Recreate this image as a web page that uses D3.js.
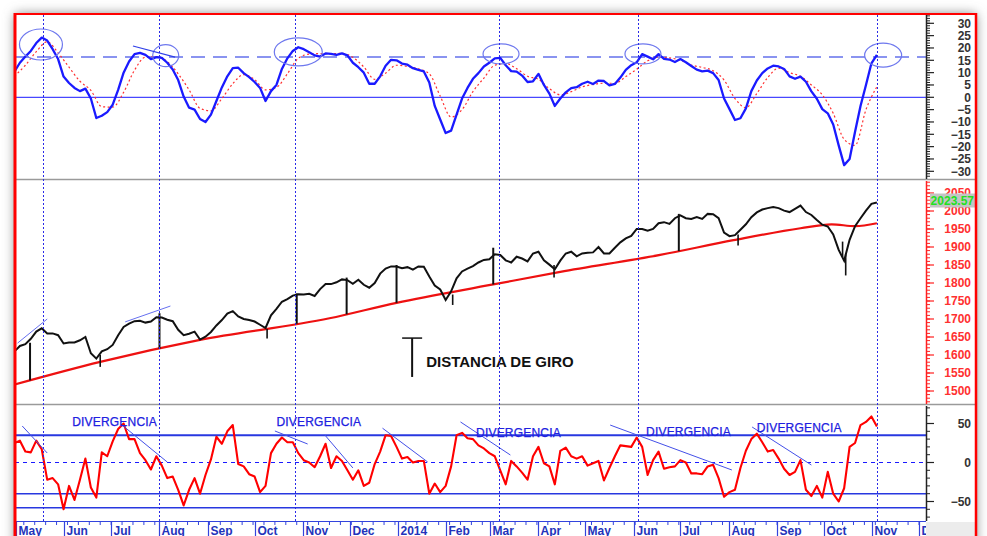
<!DOCTYPE html>
<html lang="es">
<head>
<meta charset="UTF-8">
<script src="https://cdn.jsdelivr.net/npm/d3@7"></script>
<style>
  html, body { margin: 0; padding: 0; background: #fff; }
  svg { display: block; font-family: "Liberation Sans", Arial, sans-serif; }
</style>
</head>
<body>
<script>
// ---- data (S&P 500, May 2013 - Nov 2014) ----
const seriesStart = "2013-04-30";   // first sample
const fineStep = 3.5;               // days between samples (price, oscillators)
const weekStep = 7;                 // days between samples (signal line)

// top oscillator (blue) and its signal (red dotted)
const oscBlue = [10.4,14,16.5,18.8,22,24.2,23,19.5,15.5,8.4,
  5.8,3.8,2.5,3.5,-0.5,-8.4,-7.5,-6,-3,3,
  10,14.5,17.5,18,17.2,15.5,16.3,16,14,11.3,
  7,0.3,-4.2,-5,-8.8,-10,-7,-1.5,4,8.5,
  11.8,12,9.8,8.2,6.2,3.8,-1.5,2.5,5,11.5,
  15.8,18.8,20.3,19.5,18.3,17,16.5,17.8,17.6,17.2,
  17.8,17,14,12.2,10,5.5,5.5,8.5,12.8,15.2,
  15,13.7,13.2,11.8,11.1,10.5,6,-3.5,-9,-14.5,
  -13.5,-7,-0.5,3.8,7.5,9.8,12.5,14,15.8,16,
  13,10.6,10.4,8.8,6.2,6.5,9.5,5,1.5,-3.5,
  -0.5,2,3.7,4.1,5.5,6.3,5.4,6.8,6.6,4.8,
  5.4,8,11.1,13,14.2,17.5,16.5,15.4,17.5,15.6,
  15.3,14.3,15.5,14.2,12.7,11.2,10.5,10.8,9.8,7,
  -0.5,-4.8,-9.2,-8.5,-4.5,2.5,6.8,9.8,11.7,12.8,
  12.5,11.5,8.5,7.5,8.4,6.3,2.4,-0.6,-4.8,-6.5,
  -11,-19.5,-27.5,-25,-14,-3.5,5,13.8,17.2];
const oscSignal = [8.6,13,18.5,22.5,18,12.2,6.5,2.8,-3.8,-4,
  2,11,16.3,16.5,14.5,9.5,3,-4.5,-5.5,-0.5,
  5.5,9.2,7.2,3,4,9.5,15.8,17.5,17.7,17.7,
  17.8,16.2,12.3,7.3,9.8,13,12.5,11.5,9.5,0.5,
  -8,-5,2.3,7.8,13,13.7,11.6,8.5,7.3,3.5,
  1,2.3,4.2,5.2,5.7,5.7,8.4,11.4,14.8,16.3,
  16,15,13.1,12.1,10.8,7,-0.5,-4.2,1.5,8,
  11.8,10,8.5,5,1,-6.5,-17,-19.5,-5,4.3];

// price
const closes = [1610,1625,1630,1645,1665,1674,1660,1660,1655,1632,
  1635,1635,1641,1650,1605,1590,1610,1616,1628,1655,
  1678,1687,1694,1695,1690,1693,1705,1704,1698,1694,
  1670,1655,1659,1665,1643,1651,1664,1682,1697,1715,
  1722,1707,1700,1697,1693,1684,1675,1710,1728,1748,
  1755,1765,1769,1768,1770,1764,1783,1797,1797,1802,
  1810,1808,1798,1809,1795,1787,1800,1826,1840,1846,
  1846,1841,1844,1837,1846,1845,1818,1793,1782,1753,
  1777,1813,1832,1840,1847,1857,1864,1866,1880,1878,
  1863,1857,1873,1868,1860,1882,1887,1863,1851,1838,
  1862,1882,1887,1874,1882,1884,1885,1900,1882,1882,
  1898,1913,1924,1931,1950,1950,1945,1950,1966,1969,
  1964,1980,1988,1980,1978,1983,1978,1992,1991,1980,
  1940,1930,1933,1948,1963,1983,1996,2004,2008,2011,
  2008,2001,1997,2006,2015,1997,1989,1975,1962,1957,
  1935,1892,1862,1920,1958,1980,2001,2020,2023.57];
const lastPrice = "2023.57";

// intraday ranges of the sharpest sessions
const rangeDates = ["2013-06-24","2013-10-09","2014-02-05","2014-04-11","2014-08-07","2014-10-13","2014-10-15"];
const rangeLows = [1567,1646,1739,1815,1904,1872,1821];
const rangeHighs = [1600,1672,1768,1850,1935,1915,1880];

// moving average (red)
const maDates = ["2013-04-30","2013-06-24","2013-08-27","2013-11-18","2013-12-31","2014-03-03",
  "2014-04-15","2014-06-18","2014-08-04","2014-09-16","2014-10-06","2014-10-21","2014-11-04"];
const maValues = [1518,1581,1642,1702,1745,1796,1831,1878,1919,1952,1963,1958,1966];

// "distancia de giro" bars: from the high down to the average
const giroDates = ["2013-05-10","2013-08-01","2013-10-28","2013-11-29","2013-12-31","2014-03-03","2014-06-30"];
const giroHighs = [1634,1716,1771,1815,1850,1898,1992];

// bottom oscillator (red)
const momentum = [25,28,14,13,28,17,-22,-20,-28,-60,
  -30,-48,-22,5,-32,-45,13,8,27,43,
  50,30,30,12,3,-9,8,-4,-20,-18,
  -35,-55,-35,-20,-40,-16,4,33,24,40,
  48,-2,-5,-15,-18,-38,-30,12,24,32,
  26,26,12,3,0,-6,8,24,-7,8,
  2,-10,-22,-10,-30,-26,-2,14,35,34,
  20,5,7,0,2,2,-40,-27,-38,-30,
  -5,35,38,31,30,22,18,12,8,-10,
  -28,2,-5,-13,-22,8,20,-1,-5,-28,
  15,19,8,5,8,-4,-1,2,-23,-7,
  8,22,21,20,32,20,-16,3,
  14,-8,-6,-5,3,0,-14,-14,-15,-5,
  -3,-20,-44,-38,-35,-7,15,30,37,26,
  14,16,5,-8,-16,-12,3,-35,-43,-30,
  -45,-12,-40,-50,-33,20,25,48,52,59,
  46];
const momLevels = [35, -40, -58];

// annotations
const markerDates = ["2013-05-18","2013-08-01","2013-10-27","2014-03-07","2014-06-04","2014-11-04"];
const peakDates = ["2013-05-17","2013-08-05","2013-10-29","2014-03-08","2014-06-07","2014-11-08"];
const peakValues = [21.4,16.9,18.4,17.6,17.6,17.1];
const peakRx = [21.5,13,24,18,18,18.5];
const peakRy = [15.5,11,14,10,10,12];
const oscLevel = 16.3;

const divLabelDates = ["2013-06-06","2013-10-15","2014-02-20","2014-06-09","2014-08-19"];
const divLabelValues = [46.8,46.8,32.7,34,39];
const divLines = [
  ["2013-05-05",46.8,"2013-05-21",12.2],["2013-07-08",48,"2013-08-06",0.6],
  ["2013-10-14",40.4,"2013-11-04",23.7],["2013-11-15",35.3,"2013-12-03",-7],
  ["2013-12-22",44,"2014-01-20",0.6],["2014-02-10",52,"2014-03-14",9.6],
  ["2014-05-17",48,"2014-08-03",-9.6],["2014-08-16",45.5,"2014-09-23",-3.2]];
const priceLines = [["2013-05-02",1633,"2013-05-21",1700],["2013-07-10",1692,"2013-08-08",1736]];
const oscLines = [["2013-07-15",20.8,"2013-08-11",16.3]];

const monthLabels = ["May","Jun","Jul","Aug","Sep","Oct","Nov","Dec","2014","Feb",
  "Mar","Apr","May","Jun","Jul","Aug","Sep","Oct","Nov","Dec"];

// ---- layout ----
const W = 987, H = 536;
const L = 15, R = 926;
const pTop = {y0: 15, y1: 179}, pMid = {y0: 181, y1: 404}, pBot = {y0: 406, y1: 521};
const BLUE = "#1a1aff", AXBLUE = "#3344dd";

const parse = d3.utcParse("%Y-%m-%d");
const DAY = 864e5;
const t0 = parse(seriesStart).getTime();
const fineDates = closes.map((_, i) => new Date(t0 + i * fineStep * DAY));
const weekDates = oscSignal.map((_, i) => new Date(t0 + i * weekStep * DAY));

const x = d3.scaleUtc().domain([parse("2013-05-01"), parse("2014-12-01")]).range([16, 919]);
const yTop = d3.scaleLinear().domain([-30, 30]).range([171.3, 23.3]);
const yPx = d3.scaleLinear().domain([1500, 2000]).range([391, 211]);
const yBot = d3.scaleLinear().domain([-50, 50]).range([501.5, 423.5]);

const svg = d3.select("body").append("svg").attr("width", W).attr("height", H);
const defs = svg.append("defs");
defs.append("filter").attr("id", "shadow").attr("x", "-10%").attr("y", "-10%")
  .attr("width", "120%").attr("height", "120%")
  .append("feGaussianBlur").attr("stdDeviation", 6);
defs.append("clipPath").attr("id", "plot")
  .append("rect").attr("x", L + 1).attr("y", pTop.y0).attr("width", R - L - 1).attr("height", pBot.y1 - pTop.y0);

// window + shadow
svg.append("rect").attr("x", L).attr("y", 14).attr("width", 961).attr("height", 560)
  .attr("fill", "#808080").attr("filter", "url(#shadow)");
svg.append("rect").attr("x", L).attr("y", 14).attr("width", 961).attr("height", 560).attr("fill", "#fff");
svg.append("rect").attr("x", R).attr("y", pBot.y1 + 1).attr("width", 50).attr("height", 20).attr("fill", "#ececec");

// panel separators
[pTop.y1 + 0.5, pMid.y1 + 0.5].forEach(y => {
  svg.append("line").attr("x1", L).attr("x2", 976).attr("y1", y).attr("y2", y)
    .attr("stroke", "#9a9a9a").attr("stroke-width", 1.5);
});

const plot = svg.append("g").attr("clip-path", "url(#plot)");

// ---- top panel ----
plot.append("line").attr("x1", L).attr("x2", R).attr("y1", yTop(0)).attr("y2", yTop(0))
  .attr("stroke", BLUE).attr("stroke-width", 1);
plot.append("line").attr("x1", L).attr("x2", R).attr("y1", yTop(oscLevel)).attr("y2", yTop(oscLevel))
  .attr("stroke", "#8a94f0").attr("stroke-width", 2).attr("stroke-dasharray", "14,8");

plot.append("path").datum(oscSignal)
  .attr("d", d3.line().x((d, i) => x(weekDates[i])).y(d => yTop(d)).curve(d3.curveMonotoneX))
  .attr("fill", "none").attr("stroke", "#ff3030").attr("stroke-width", 1.2).attr("stroke-dasharray", "2,2.5");
plot.append("path").datum(oscBlue)
  .attr("d", d3.line().x((d, i) => x(fineDates[i])).y(d => yTop(d)))
  .attr("fill", "none").attr("stroke", BLUE).attr("stroke-width", 2.3).attr("stroke-linejoin", "round");

peakDates.forEach((d, i) => {
  plot.append("ellipse").attr("cx", x(parse(d))).attr("cy", yTop(peakValues[i]))
    .attr("rx", peakRx[i]).attr("ry", peakRy[i])
    .attr("fill", "none").attr("stroke", "#6e78ee").attr("stroke-width", 1.2);
});
oscLines.forEach(l => {
  plot.append("line").attr("x1", x(parse(l[0]))).attr("y1", yTop(l[1]))
    .attr("x2", x(parse(l[2]))).attr("y2", yTop(l[3]))
    .attr("stroke", "#3040e8").attr("stroke-width", 1.2);
});

// ---- price panel ----
const maPts = maDates.map((d, i) => [parse(d), maValues[i]]);
const maAt = date => {
  const t = date.getTime();
  const j = d3.bisector(p => p[0]).right(maPts, date) - 1;
  const a = maPts[Math.max(0, j)], b = maPts[Math.min(maPts.length - 1, j + 1)];
  if (a === b) return a[1];
  return a[1] + (b[1] - a[1]) * (t - a[0]) / (b[0] - a[0]);
};

plot.append("path").datum(maPts)
  .attr("d", d3.line().x(d => x(d[0])).y(d => yPx(d[1])).curve(d3.curveMonotoneX))
  .attr("fill", "none").attr("stroke", "#ee1111").attr("stroke-width", 2.2);

giroDates.forEach((d, i) => {
  const dt = parse(d);
  plot.append("line").attr("x1", x(dt)).attr("x2", x(dt))
    .attr("y1", yPx(giroHighs[i])).attr("y2", yPx(maAt(dt)))
    .attr("stroke", "#111").attr("stroke-width", 2);
});

rangeDates.forEach((d, i) => {
  const xx = x(parse(d));
  plot.append("line").attr("x1", xx).attr("x2", xx)
    .attr("y1", yPx(rangeHighs[i])).attr("y2", yPx(rangeLows[i]))
    .attr("stroke", "#111").attr("stroke-width", 1.6);
});

plot.append("path").datum(closes)
  .attr("d", d3.line().x((d, i) => x(fineDates[i])).y(d => yPx(d)))
  .attr("fill", "none").attr("stroke", "#111").attr("stroke-width", 2).attr("stroke-linejoin", "miter");

priceLines.forEach(l => {
  plot.append("line").attr("x1", x(parse(l[0]))).attr("y1", yPx(l[1]))
    .attr("x2", x(parse(l[2]))).attr("y2", yPx(l[3]))
    .attr("stroke", "#6670f0").attr("stroke-width", 1);
});

// "distancia de giro" legend
const gx = x(parse("2014-01-10"));
plot.append("line").attr("x1", gx - 10).attr("x2", gx + 10).attr("y1", yPx(1647)).attr("y2", yPx(1647))
  .attr("stroke", "#111").attr("stroke-width", 1.5);
plot.append("line").attr("x1", gx).attr("x2", gx).attr("y1", yPx(1647)).attr("y2", yPx(1539))
  .attr("stroke", "#111").attr("stroke-width", 2);
plot.append("text").attr("x", x(parse("2014-01-19"))).attr("y", yPx(1567))
  .attr("font-size", 15).attr("font-weight", "bold").attr("fill", "#111")
  .text("DISTANCIA DE GIRO");

// ---- bottom panel ----
plot.append("line").attr("x1", L).attr("x2", R).attr("y1", yBot(0)).attr("y2", yBot(0))
  .attr("stroke", BLUE).attr("stroke-width", 1.2).attr("stroke-dasharray", "4,4");
momLevels.forEach((v, i) => {
  plot.append("line").attr("x1", L).attr("x2", R).attr("y1", yBot(v)).attr("y2", yBot(v))
    .attr("stroke", "#2838e0").attr("stroke-width", i === 0 ? 2 : 1.4);
});
plot.append("path").datum(momentum)
  .attr("d", d3.line().x((d, i) => x(fineDates[i])).y(d => yBot(d)))
  .attr("fill", "none").attr("stroke", "#ff0000").attr("stroke-width", 2.1).attr("stroke-linejoin", "round");

divLines.forEach(l => {
  plot.append("line").attr("x1", x(parse(l[0]))).attr("y1", yBot(l[1]))
    .attr("x2", x(parse(l[2]))).attr("y2", yBot(l[3]))
    .attr("stroke", "#4450e8").attr("stroke-width", 1);
});
divLabelDates.forEach((d, i) => {
  plot.append("text").attr("x", x(parse(d))).attr("y", yBot(divLabelValues[i]))
    .attr("font-size", 12).attr("fill", "#2020e0").attr("letter-spacing", 0.2)
    .attr("stroke", "#2020e0").attr("stroke-width", 0.25)
    .text("DIVERGENCIA");
});

// vertical dotted markers through all panels
markerDates.forEach(d => {
  const xx = Math.round(x(parse(d))) + 0.5;
  plot.append("line").attr("x1", xx).attr("x2", xx).attr("y1", pTop.y0).attr("y2", pBot.y1)
    .attr("stroke", "#2a2ae8").attr("stroke-width", 1).attr("stroke-dasharray", "2,2");
});

// ---- right axes ----
function rightAxis(scale, minor, major, y0, y1, color, labelColor, fmt) {
  const g = svg.append("g");
  g.append("line").attr("x1", R + 0.5).attr("x2", R + 0.5).attr("y1", y0).attr("y2", y1)
    .attr("stroke", color).attr("stroke-width", 1.5);
  minor.forEach(v => {
    const yy = scale(v);
    if (yy < y0 || yy > y1) return;
    g.append("line").attr("x1", R).attr("x2", R + 4).attr("y1", yy).attr("y2", yy)
      .attr("stroke", color).attr("stroke-width", 1);
  });
  major.forEach(v => {
    const yy = scale(v);
    if (yy < y0 || yy > y1) return;
    g.append("line").attr("x1", R).attr("x2", R + 8).attr("y1", yy).attr("y2", yy)
      .attr("stroke", color).attr("stroke-width", 1.2);
    g.append("text").attr("x", 971).attr("y", yy).attr("dy", "0.35em")
      .attr("text-anchor", "end").attr("font-size", 12).attr("font-weight", "bold")
      .attr("fill", labelColor).text(fmt(v));
  });
}
rightAxis(yTop, d3.range(-32, 34, 1), d3.range(-30, 31, 5), pTop.y0, pTop.y1, "#222", "#333", d3.format("d"));
rightAxis(yPx, d3.range(1470, 2081, 10), d3.range(1500, 2051, 50), pMid.y0, pMid.y1, "#ff2020", "#ff3030", d3.format("d"));
rightAxis(yBot, d3.range(-70, 71, 10), [-50, 0, 50], pBot.y0, pBot.y1, "#222", "#333", d3.format("d"));

// last price tag
const lp = yPx(+lastPrice);
svg.append("rect").attr("x", 930).attr("y", lp - 9).attr("width", 45).attr("height", 14).attr("fill", "#c4c4c4");
svg.append("text").attr("x", 974).attr("y", lp - 2).attr("dy", "0.35em").attr("text-anchor", "end")
  .attr("font-size", 12).attr("font-weight", "bold").attr("fill", "#22e022").text(lastPrice);

// ---- x axis ----
const xg = svg.append("g");
const xClip = defs.append("clipPath").attr("id", "xax");
xClip.append("rect").attr("x", L).attr("y", pBot.y1 - 1).attr("width", R - L).attr("height", 20);
xg.attr("clip-path", "url(#xax)");
xg.append("line").attr("x1", L).attr("x2", R).attr("y1", pBot.y1 + 0.5).attr("y2", pBot.y1 + 0.5)
  .attr("stroke", AXBLUE).attr("stroke-width", 1.2);
d3.utcMonday.range(parse("2013-05-01"), parse("2014-12-05")).forEach(d => {
  xg.append("line").attr("x1", x(d)).attr("x2", x(d)).attr("y1", pBot.y1).attr("y2", pBot.y1 + 4)
    .attr("stroke", AXBLUE).attr("stroke-width", 1);
});
d3.utcMonth.range(parse("2013-05-01"), parse("2014-12-05")).forEach((d, i) => {
  const xx = Math.round(x(d)) + 0.5;
  xg.append("line").attr("x1", xx).attr("x2", xx).attr("y1", pBot.y1).attr("y2", H)
    .attr("stroke", AXBLUE).attr("stroke-width", 1.2);
  xg.append("text").attr("x", xx + 2).attr("y", 535)
    .attr("font-size", 12).attr("font-weight", "bold").attr("fill", "#2233bb")
    .text(monthLabels[i]);
});

// red frame
svg.append("line").attr("x1", L).attr("x2", L).attr("y1", 13).attr("y2", H).attr("stroke", "#ff0000").attr("stroke-width", 3);
svg.append("line").attr("x1", L).attr("x2", 977).attr("y1", 14).attr("y2", 14).attr("stroke", "#ff0000").attr("stroke-width", 2);
svg.append("line").attr("x1", 976).attr("x2", 976).attr("y1", 13).attr("y2", H).attr("stroke", "#ff0000").attr("stroke-width", 2.5);
</script>
</body>
</html>
